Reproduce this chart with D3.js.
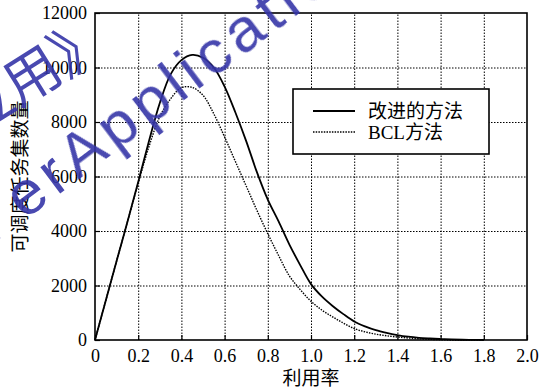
<!DOCTYPE html>
<html>
<head>
<meta charset="utf-8">
<script src="https://cdn.jsdelivr.net/npm/d3@7"></script>
<style>
    body { margin: 0; background: #fff; }
    svg { display: block; }
    .tick text { font-family: "Liberation Serif", "DejaVu Serif", serif; }
</style>
</head>
<body>
<svg id="chart" width="547" height="388"></svg>
<script>
// utilisation values (x) shared by both curves
let utilization = [0, 0.05, 0.1, 0.15, 0.2, 0.25, 0.3, 0.35, 0.4, 0.45, 0.5, 0.55, 0.6, 0.65, 0.7, 0.75,
    0.8, 0.85, 0.9, 0.95, 1.0, 1.05, 1.1, 1.15, 1.2, 1.25, 1.3, 1.35, 1.4, 1.45, 1.5, 1.55, 1.6, 1.65, 1.7, 1.75, 1.8];
// 改进的方法
let improvedCounts = [0, 1450, 2900, 4330, 5800, 7300, 8700, 9750, 10270, 10460, 10360, 10000, 9300, 8350, 7300, 6150,
    5150, 4350, 3500, 2750, 2050, 1600, 1250, 950, 680, 500, 360, 260, 180, 120, 80, 55, 35, 20, 10, 5, 0];
// BCL方法
let bclCounts = [0, 1450, 2900, 4330, 5750, 7100, 8200, 8850, 9260, 9270, 8980, 8300, 7450, 6550, 5650, 4750,
    3900, 3100, 2350, 1850, 1420, 1100, 850, 620, 420, 300, 215, 155, 110, 75, 45, 25, 10, 0, 0, 0, 0];

let xTicks = [0, 0.2, 0.4, 0.6, 0.8, 1.0, 1.2, 1.4, 1.6, 1.8, 2.0];
let xTickLabels = ["0", "0.2", "0.4", "0.6", "0.8", "1.0", "1.2", "1.4", "1.6", "1.8", "2.0"];
let yTicks = [0, 2000, 4000, 6000, 8000, 10000, 12000];
let seriesNames = ["改进的方法", "BCL方法"];

let chartSvg = d3.select("svg#chart");
let plot = { "left": 95, "right": 527, "top": 13, "bottom": 340 };
let plotWidth = plot.right - plot.left;
let plotHeight = plot.bottom - plot.top;

let xScale = d3.scaleLinear().domain([0, 2]).range([plot.left, plot.right]);
let yScale = d3.scaleLinear().domain([0, 12000]).range([plot.bottom, plot.top]);

let cjkFont = "'Liberation Serif', 'Noto Sans CJK SC', serif";

// dotted grid
chartSvg.append("g")
    .attr("transform", "translate(0," + plot.bottom + ")")
    .call(d3.axisBottom(xScale).tickValues(xTicks.slice(1, -1)).tickSize(-plotHeight).tickFormat(""))
    .call(g => g.select(".domain").remove())
    .selectAll(".tick line")
    .attr("stroke", "#000").attr("stroke-width", 1).attr("stroke-dasharray", "1.5,1.5");
chartSvg.append("g")
    .attr("transform", "translate(" + plot.left + ",0)")
    .call(d3.axisLeft(yScale).tickValues(yTicks.slice(1, -1)).tickSize(-plotWidth).tickFormat(""))
    .call(g => g.select(".domain").remove())
    .selectAll(".tick line")
    .attr("stroke", "#000").attr("stroke-width", 1).attr("stroke-dasharray", "1.5,1.5");

// axes with inward ticks
let xAxis = chartSvg.append("g")
    .attr("transform", "translate(0," + plot.bottom + ")")
    .call(d3.axisBottom(xScale).tickValues(xTicks).tickSizeInner(-5).tickSizeOuter(0).tickPadding(9)
        .tickFormat((d, i) => xTickLabels[i]));
xAxis.selectAll(".tick text").style("font-size", "18px").attr("fill", "#000");
xAxis.selectAll(".tick line").attr("stroke-width", 1.2);

let yAxis = chartSvg.append("g")
    .attr("transform", "translate(" + plot.left + ",0)")
    .call(d3.axisLeft(yScale).tickValues(yTicks).tickSizeInner(-5).tickSizeOuter(0).tickPadding(8)
        .tickFormat(d3.format("d")));
yAxis.selectAll(".tick text").style("font-size", "18px").attr("fill", "#000");
yAxis.selectAll(".tick line").attr("stroke-width", 1.2);

chartSvg.selectAll("path.domain").remove();

// plot frame
chartSvg.append("rect")
    .attr("x", plot.left).attr("y", plot.top)
    .attr("width", plotWidth).attr("height", plotHeight)
    .attr("fill", "none").attr("stroke", "#000").attr("stroke-width", 1.6);

// curves
let improvedData = utilization.map((u, i) => ({ x: u, y: improvedCounts[i] }));
let bclData = utilization.map((u, i) => ({ x: u, y: bclCounts[i] }));
let line = d3.line().x(d => xScale(d.x)).y(d => yScale(Math.max(0, d.y))).curve(d3.curveCatmullRom.alpha(0.5));

chartSvg.append("path").datum(bclData).attr("d", line)
    .attr("fill", "none").attr("stroke", "#000").attr("stroke-width", 1.4).attr("stroke-dasharray", "1.5,1.2");
chartSvg.append("path").datum(improvedData).attr("d", line)
    .attr("fill", "none").attr("stroke", "#000").attr("stroke-width", 1.8);

// legend
let legend = chartSvg.append("g");
legend.append("rect")
    .attr("x", 293).attr("y", 89).attr("width", 196).attr("height", 65)
    .attr("fill", "#fff").attr("stroke", "#000").attr("stroke-width", 1.6);
legend.append("line").attr("x1", 313).attr("x2", 355).attr("y1", 111).attr("y2", 111)
    .attr("stroke", "#000").attr("stroke-width", 1.8);
legend.append("line").attr("x1", 313).attr("x2", 355).attr("y1", 132).attr("y2", 132)
    .attr("stroke", "#000").attr("stroke-width", 1.4).attr("stroke-dasharray", "1.5,1.2");
legend.selectAll("text.legendLabel").data(seriesNames).enter().append("text")
    .attr("class", "legendLabel")
    .attr("x", 368).attr("y", (d, i) => 118 + i * 21)
    .style("font-family", cjkFont).style("font-size", "19px").text(d => d);

// axis titles
chartSvg.append("text")
    .attr("transform", "translate(" + (plot.left + plotWidth / 2.0) + ",385)")
    .style("text-anchor", "middle").style("font-family", cjkFont).style("font-size", "19px")
    .text("利用率");
chartSvg.append("text")
    .attr("transform", "translate(27," + (plot.top + plotHeight / 2.0) + ")rotate(-90)")
    .style("text-anchor", "middle").style("font-family", cjkFont).style("font-size", "19px")
    .text("可调度任务集数量");

// journal watermark on top
let mark = chartSvg.append("g").attr("fill", "#3535a8").attr("opacity", 0.9);
mark.append("text")
    .attr("transform", "translate(114,48)rotate(-32)")
    .style("text-anchor", "end").style("font-family", "'Noto Sans CJK SC'").style("font-size", "56px")
    .text("《计算机应用》");
mark.append("text")
    .attr("transform", "translate(78,180)rotate(-37)")
    .style("text-anchor", "end").style("font-family", "'Liberation Sans'").style("font-size", "62px")
    .style("letter-spacing", "6px")
    .text("Journal of Comput er ");
mark.append("text")
    .attr("transform", "translate(78,180)rotate(-37)")
    .style("font-family", "'Liberation Sans'").style("font-size", "62px")
    .style("letter-spacing", "6px")
    .text("Applications");
</script>
</body>
</html>
